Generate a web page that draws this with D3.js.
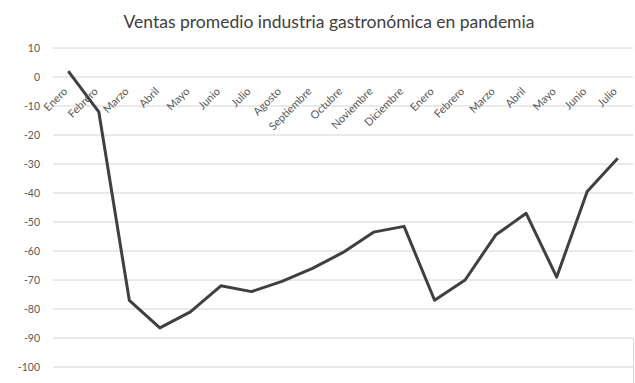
<!DOCTYPE html>
<html>
<head>
<meta charset="utf-8">
<script src="https://cdn.jsdelivr.net/npm/d3@7"></script>
<style>
  body { margin: 0; background: #fff; }
  svg { display: block; font-family: Lato, "Open Sans", sans-serif; }
</style>
</head>
<body>
<div id="chart"></div>
<script>
// datos
const titulo = 'Ventas promedio industria gastronómica en pandemia';
const meses = ['Enero', 'Febrero', 'Marzo', 'Abril', 'Mayo', 'Junio', 'Julio', 'Agosto',
  'Septiembre', 'Octubre', 'Noviembre', 'Diciembre',
  'Enero', 'Febrero', 'Marzo', 'Abril', 'Mayo', 'Junio', 'Julio'];
const ventas = [2, -12, -77, -86.5, -81, -72, -74, -70.5, -66, -60.5, -53.5, -51.5,
  -77, -70, -54.5, -47, -69, -39.5, -28];
const yTicks = [10, 0, -10, -20, -30, -40, -50, -60, -70, -80, -90, -100];

const width = 635, height = 383;
const plot = { left: 53, right: 633, top: 48, bottom: 367 };

const svg = d3.select('#chart').append('svg')
  .attr('width', width)
  .attr('height', height);

// escalas
const x = d3.scaleBand()
  .domain(d3.range(meses.length))
  .range([plot.left, plot.right]);
const y = d3.scaleLinear()
  .domain([-100, 10])
  .range([plot.bottom, plot.top]);
const cx = i => x(i) + x.bandwidth() / 2;

// título
svg.append('text')
  .attr('x', 329)
  .attr('y', 28)
  .attr('text-anchor', 'middle')
  .attr('fill', '#404040')
  .style('font-size', '17.5px')
  .text(titulo);

// líneas de cuadrícula
svg.append('g')
  .selectAll('line')
  .data(yTicks)
  .join('line')
  .attr('x1', plot.left)
  .attr('x2', plot.right)
  .attr('y1', d => y(d))
  .attr('y2', d => y(d))
  .attr('stroke', '#d4d4d4')
  .attr('stroke-width', 1);

// etiquetas eje y
svg.append('g')
  .selectAll('text')
  .data(yTicks)
  .join('text')
  .attr('x', 40)
  .attr('y', d => y(d) + 3.5)
  .attr('text-anchor', 'end')
  .attr('fill', '#595959')
  .style('font-size', '10.5px')
  .text(d => d);

// etiquetas de categorías, giradas -45°, colgando del eje en 0
svg.append('g')
  .selectAll('text')
  .data(meses)
  .join('text')
  .attr('text-anchor', 'end')
  .attr('transform', (d, i) => `translate(${cx(i)},${y(0) + 15}) rotate(-45)`)
  .attr('fill', '#595959')
  .style('font-size', '11px')
  .text(d => d);

// serie
const line = d3.line()
  .x((d, i) => cx(i))
  .y(d => y(d));

svg.append('path')
  .datum(ventas)
  .attr('fill', 'none')
  .attr('stroke', '#404040')
  .attr('stroke-width', 3)
  .attr('stroke-linejoin', 'round')
  .attr('d', line);

// resto del borde del gráfico
svg.append('line')
  .attr('x1', 633.5).attr('x2', 633.5)
  .attr('y1', 338).attr('y2', height)
  .attr('stroke', '#d9d9d9');
</script>
</body>
</html>
